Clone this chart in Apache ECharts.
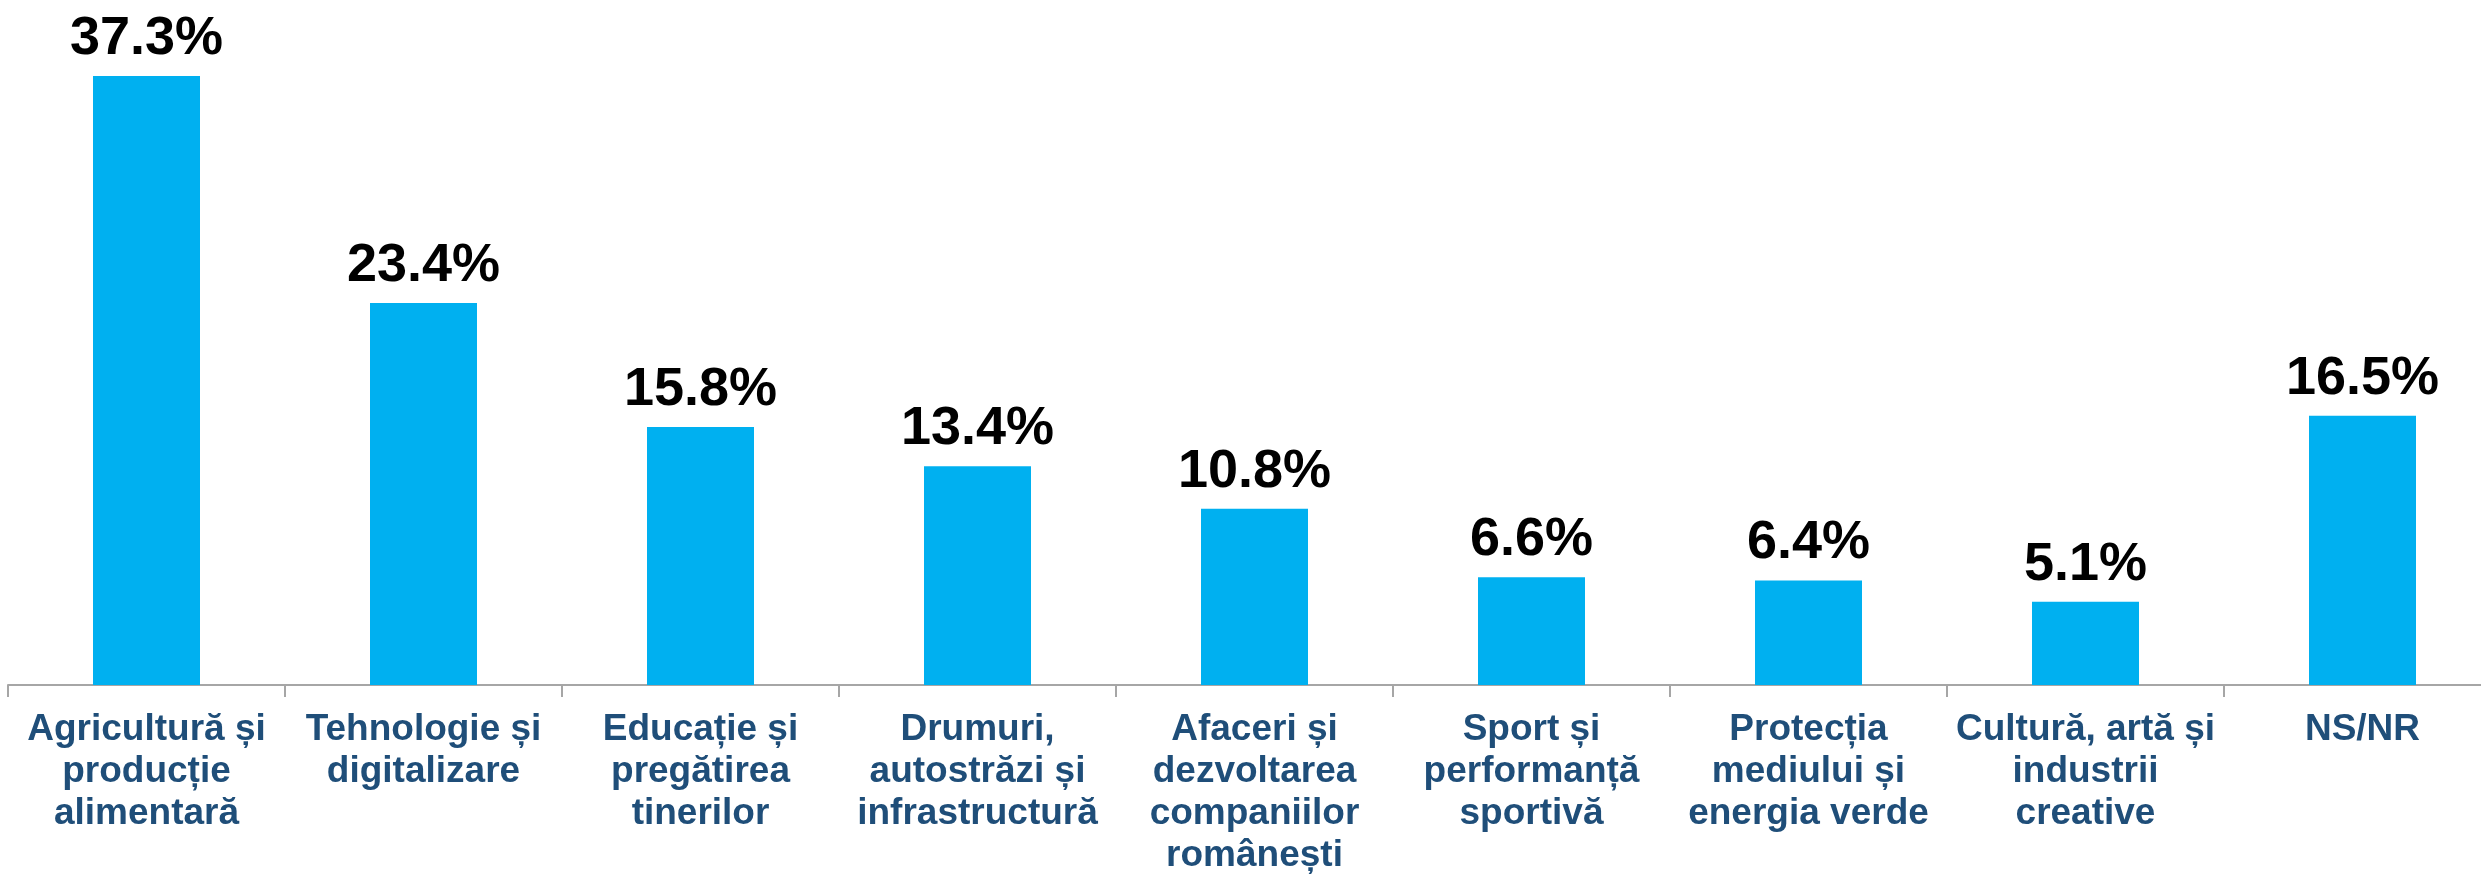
<!DOCTYPE html>
<html>
<head>
<meta charset="utf-8">
<script src="https://cdn.jsdelivr.net/npm/echarts@6/dist/echarts.min.js"></script>
<style>
  html, body { margin: 0; padding: 0; background: #fff; }
  #chart { width: 2481px; height: 878px; }
</style>
</head>
<body>
<div id="chart"></div>
<script>
// categorii (cu rupturi de rând ca în original)
var categories = [
  'Agricultură și\nproducție\nalimentară',
  'Tehnologie și\ndigitalizare',
  'Educație și\npregătirea\ntinerilor',
  'Drumuri,\nautostrăzi și\ninfrastructură',
  'Afaceri și\ndezvoltarea\ncompaniilor\nromânești',
  'Sport și\nperformanță\nsportivă',
  'Protecția\nmediului și\nenergia verde',
  'Cultură, artă și\nindustrii\ncreative',
  'NS/NR'
];
var values = [37.3, 23.4, 15.8, 13.4, 10.8, 6.6, 6.4, 5.1, 16.5];

var myChart = echarts.init(document.getElementById('chart'));
var option = {
  animation: false,
  grid: {
    left: 8,
    top: 32,
    width: 2493,
    height: 653,
    containLabel: false,
    outerBoundsMode: 'none'
  },
  xAxis: {
    type: 'category',
    data: categories,
    axisLine: { lineStyle: { color: '#A6A6A6', width: 2 } },
    axisTick: { show: true, length: 12, lineStyle: { color: '#A6A6A6', width: 2 } },
    axisLabel: {
      interval: 0,
      margin: 24,
      color: '#1F4E79',
      fontFamily: 'Liberation Sans, Arial, sans-serif',
      fontWeight: 'bold',
      fontSize: 37,
      lineHeight: 42,
      align: 'center'
    }
  },
  yAxis: {
    type: 'value',
    min: 0,
    max: 40,
    show: false,
    splitLine: { show: false }
  },
  series: [
    {
      type: 'bar',
      data: values,
      barWidth: 107,
      itemStyle: { color: '#00B0F0' },
      label: {
        show: true,
        position: 'top',
        distance: 10,
        formatter: '{c}%',
        color: '#000',
        fontFamily: 'Liberation Sans, Arial, sans-serif',
        fontWeight: 'bold',
        fontSize: 54
      }
    }
  ]
};
myChart.setOption(option);
window.addEventListener('resize', myChart.resize);
</script>
</body>
</html>
